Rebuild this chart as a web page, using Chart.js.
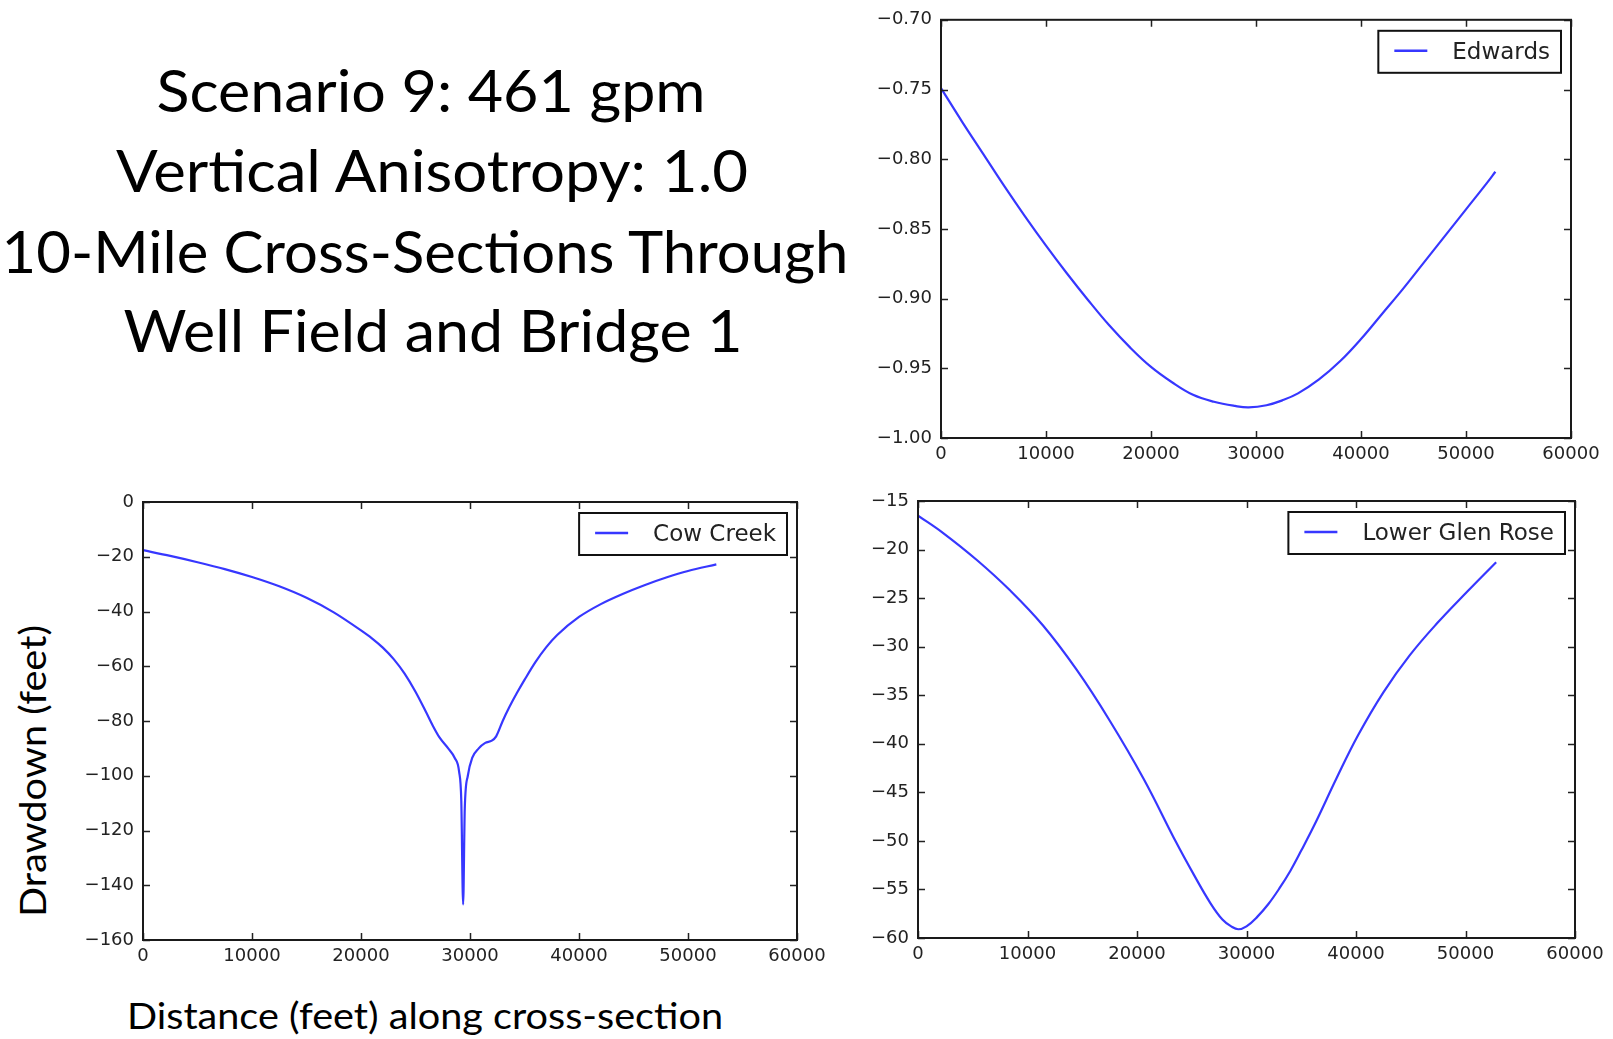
<!DOCTYPE html>
<html>
<head>
<meta charset="utf-8">
<script src="https://cdn.jsdelivr.net/npm/chart.js@4.4.1/dist/chart.umd.min.js"></script>
<style>
html, body { margin: 0; padding: 0; background: #fff; width: 1613px; height: 1039px; overflow: hidden; }
.box { position: absolute; }
#txt { position: absolute; left: 0; top: 0; }
#txt text { font-family: Lato, "Open Sans", sans-serif; fill: #000; }
</style>
</head>
<body>
<svg id="txt" width="1613" height="1039" xmlns="http://www.w3.org/2000/svg">
  <text x="431" y="112" font-size="58" text-anchor="middle" textLength="549" lengthAdjust="spacingAndGlyphs">Scenario 9: 461 gpm</text>
  <text x="432" y="192" font-size="58" text-anchor="middle" textLength="632" lengthAdjust="spacingAndGlyphs">Vertical Anisotropy: 1.0</text>
  <text x="425" y="273" font-size="58" text-anchor="middle" textLength="847" lengthAdjust="spacingAndGlyphs">10-Mile Cross-Sections Through</text>
  <text x="433" y="352" font-size="58" text-anchor="middle" textLength="619" lengthAdjust="spacingAndGlyphs">Well Field and Bridge 1</text>
  <text x="46" y="771" font-size="37" text-anchor="middle" textLength="292" lengthAdjust="spacingAndGlyphs" transform="rotate(-90 46 771)">Drawdown (feet)</text>
  <text x="425" y="1029" font-size="36" text-anchor="middle" textLength="596" lengthAdjust="spacingAndGlyphs">Distance (feet) along cross-section</text>
</svg>
<div class="box" style="left:861px;top:0px;"><canvas id="edwards" width="752" height="480"></canvas></div>
<div class="box" style="left:63px;top:470px;"><canvas id="cowcreek" width="770" height="510"></canvas></div>
<div class="box" style="left:838px;top:470px;"><canvas id="glenrose" width="775" height="510"></canvas></div>
<script>
// ---------- data ----------
const xTickValues = [0, 10000, 20000, 30000, 40000, 50000, 60000];

const edwardsLabel = 'Edwards';
const edwardsX = [0, 2000, 4000, 6000, 8000, 10000, 12000, 14000, 16000, 18000, 20000, 22000, 24000, 26000, 28000, 29300, 31000, 32500, 34000, 36000, 38000, 40000, 42000, 44000, 46000, 48000, 50000, 52000, 52800];
const edwardsY = [-0.749, -0.773, -0.796, -0.819, -0.841, -0.862, -0.882, -0.901, -0.919, -0.935, -0.949, -0.960, -0.969, -0.974, -0.977, -0.978, -0.9765, -0.973, -0.968, -0.958, -0.945, -0.929, -0.911, -0.893, -0.874, -0.855, -0.836, -0.817, -0.809];
const edwardsTicks = [-1.00, -0.95, -0.90, -0.85, -0.80, -0.75, -0.70];

const cowLabel = 'Cow Creek';
const cowX = [0, 2500, 5000, 7500, 10000, 12500, 15000, 17500, 20000, 21000, 22000, 23000, 24000, 25000, 26000, 26600, 27200, 28000, 28600, 29000, 29200, 29370, 29520, 29800, 30200, 30800, 31400, 32000, 32400, 33000, 33600, 34300, 35000, 36000, 37000, 38000, 40000, 42000, 44000, 46000, 48000, 50000, 52600];
const cowY = [-17.6, -19.7, -22.0, -24.5, -27.4, -30.8, -35.0, -40.3, -46.9, -49.8, -53.2, -57.4, -62.7, -69.3, -77.0, -81.8, -86.0, -90.0, -93.5, -98.5, -109.0, -147.0, -112.0, -100.0, -93.5, -90.0, -88.0, -87.2, -85.6, -80.0, -75.0, -69.8, -65.0, -58.5, -53.0, -48.6, -42.0, -37.3, -33.6, -30.4, -27.6, -25.2, -22.8];
const cowTicks = [-160, -140, -120, -100, -80, -60, -40, -20, 0];

const glenLabel = 'Lower Glen Rose';
const glenX = [0, 2300, 5400, 8400, 11400, 14500, 17500, 20600, 23600, 25200, 26700, 27800, 28600, 29250, 30000, 31000, 32000, 33000, 34000, 35000, 36400, 38200, 40200, 42500, 44900, 47400, 50100, 52800];
const glenY = [-16.5, -18.3, -21.1, -24.2, -27.8, -32.4, -37.6, -43.6, -50.2, -53.5, -56.4, -58.1, -58.8, -59.1, -58.8, -57.8, -56.5, -54.9, -53.1, -51.0, -47.9, -43.6, -39.1, -34.7, -30.9, -27.6, -24.4, -21.3];
const glenTicks = [-60, -55, -50, -45, -40, -35, -30, -25, -20, -15];

// ---------- style ----------
const LINE_COLOR = 'rgb(55,55,255)';
const TEXT_COLOR = '#222';
const TICK_FONT = { family: '"DejaVu Sans", sans-serif', size: 18 };
const TICK_LEN = 7;

const frameTicks = {
  id: 'frameTicks',
  afterDraw(chart) {
    const { ctx, chartArea: a, scales: { x, y } } = chart;
    ctx.save();
    ctx.strokeStyle = '#222';
    ctx.lineWidth = 1.5;
    ctx.beginPath();
    x.ticks.forEach(t => {
      const px = Math.round(x.getPixelForValue(t.value)) + 0.5;
      ctx.moveTo(px, a.bottom); ctx.lineTo(px, a.bottom - TICK_LEN);
      ctx.moveTo(px, a.top); ctx.lineTo(px, a.top + TICK_LEN);
    });
    y.ticks.forEach(t => {
      const py = Math.round(y.getPixelForValue(t.value)) + 0.5;
      ctx.moveTo(a.left, py); ctx.lineTo(a.left + TICK_LEN, py);
      ctx.moveTo(a.right, py); ctx.lineTo(a.right - TICK_LEN, py);
    });
    ctx.stroke();
    ctx.lineWidth = 2;
    ctx.strokeStyle = '#1a1a1a';
    ctx.strokeRect(a.left, a.top, a.right - a.left, a.bottom - a.top);
    ctx.restore();
  }
};

const boxLegend = {
  id: 'boxLegend',
  afterDraw(chart) {
    const { ctx, chartArea: a } = chart;
    const ds = chart.data.datasets[0];
    ctx.save();
    ctx.font = '23px "DejaVu Sans", sans-serif';
    const tw = ctx.measureText(ds.label).width;
    const boxH = 42;
    const boxW = 16 + 33 + 25 + tw + 11;
    const bx = a.right - 10 - boxW;
    const by = a.top + 11;
    ctx.fillStyle = '#fff';
    ctx.fillRect(bx, by, boxW, boxH);
    ctx.strokeStyle = '#111';
    ctx.lineWidth = 2;
    ctx.strokeRect(bx, by, boxW, boxH);
    ctx.strokeStyle = ds.borderColor;
    ctx.lineWidth = 2.5;
    ctx.beginPath();
    ctx.moveTo(bx + 16, by + 20);
    ctx.lineTo(bx + 49, by + 20);
    ctx.stroke();
    ctx.fillStyle = TEXT_COLOR;
    ctx.textBaseline = 'alphabetic';
    ctx.fillText(ds.label, bx + 74, by + 28);
    ctx.restore();
  }
};

function fmt(v, dec) {
  const s = dec > 0 ? Number(v).toFixed(dec) : String(Math.round(v));
  return s.replace('-', '\u2212');
}

function makeChart(id, label, xs, ys, yTicks, dec, pad, yW, xH, monotone) {
  const pts = xs.map((x, i) => ({ x: x, y: ys[i] }));
  return new Chart(document.getElementById(id), {
    type: 'scatter',
    data: {
      datasets: [{
        label: label,
        data: pts,
        showLine: true,
        borderColor: LINE_COLOR,
        backgroundColor: LINE_COLOR,
        borderWidth: 2.2,
        pointRadius: 0,
        pointHoverRadius: 0,
        fill: false,
        tension: monotone ? 0 : 0.4,
        cubicInterpolationMode: monotone ? 'monotone' : 'default'
      }]
    },
    options: {
      responsive: false,
      animation: false,
      events: [],
      layout: { padding: pad },
      plugins: { legend: { display: false }, tooltip: { enabled: false } },
      scales: {
        x: {
          type: 'linear',
          min: xTickValues[0],
          max: xTickValues[xTickValues.length - 1],
          afterBuildTicks: s => { s.ticks = xTickValues.map(v => ({ value: v })); },
          afterFit: s => { s.height = xH; },
          grid: { display: false, drawTicks: false },
          border: { display: false },
          ticks: { font: TICK_FONT, color: TEXT_COLOR, padding: 6, maxRotation: 0, autoSkip: false, callback: v => fmt(v, 0) }
        },
        y: {
          type: 'linear',
          min: yTicks[0],
          max: yTicks[yTicks.length - 1],
          afterBuildTicks: s => { s.ticks = yTicks.map(v => ({ value: v })); },
          afterFit: s => { s.width = yW; },
          grid: { display: false, drawTicks: false },
          border: { display: false },
          ticks: { font: TICK_FONT, color: TEXT_COLOR, padding: 9, autoSkip: false, callback: v => fmt(v, dec) }
        }
      }
    },
    plugins: [frameTicks, boxLegend]
  });
}

makeChart('edwards', edwardsLabel, edwardsX, edwardsY, edwardsTicks, 2,
  { left: 10, top: 18, right: 42, bottom: 2 }, 70, 40, false);
makeChart('cowcreek', cowLabel, cowX, cowY, cowTicks, 0,
  { left: 10, top: 32, right: 36, bottom: 2 }, 70, 38, true);
makeChart('glenrose', glenLabel, glenX, glenY, glenTicks, 0,
  { left: 10, top: 31, right: 38, bottom: 2 }, 70, 40, false);
</script>
</body>
</html>
